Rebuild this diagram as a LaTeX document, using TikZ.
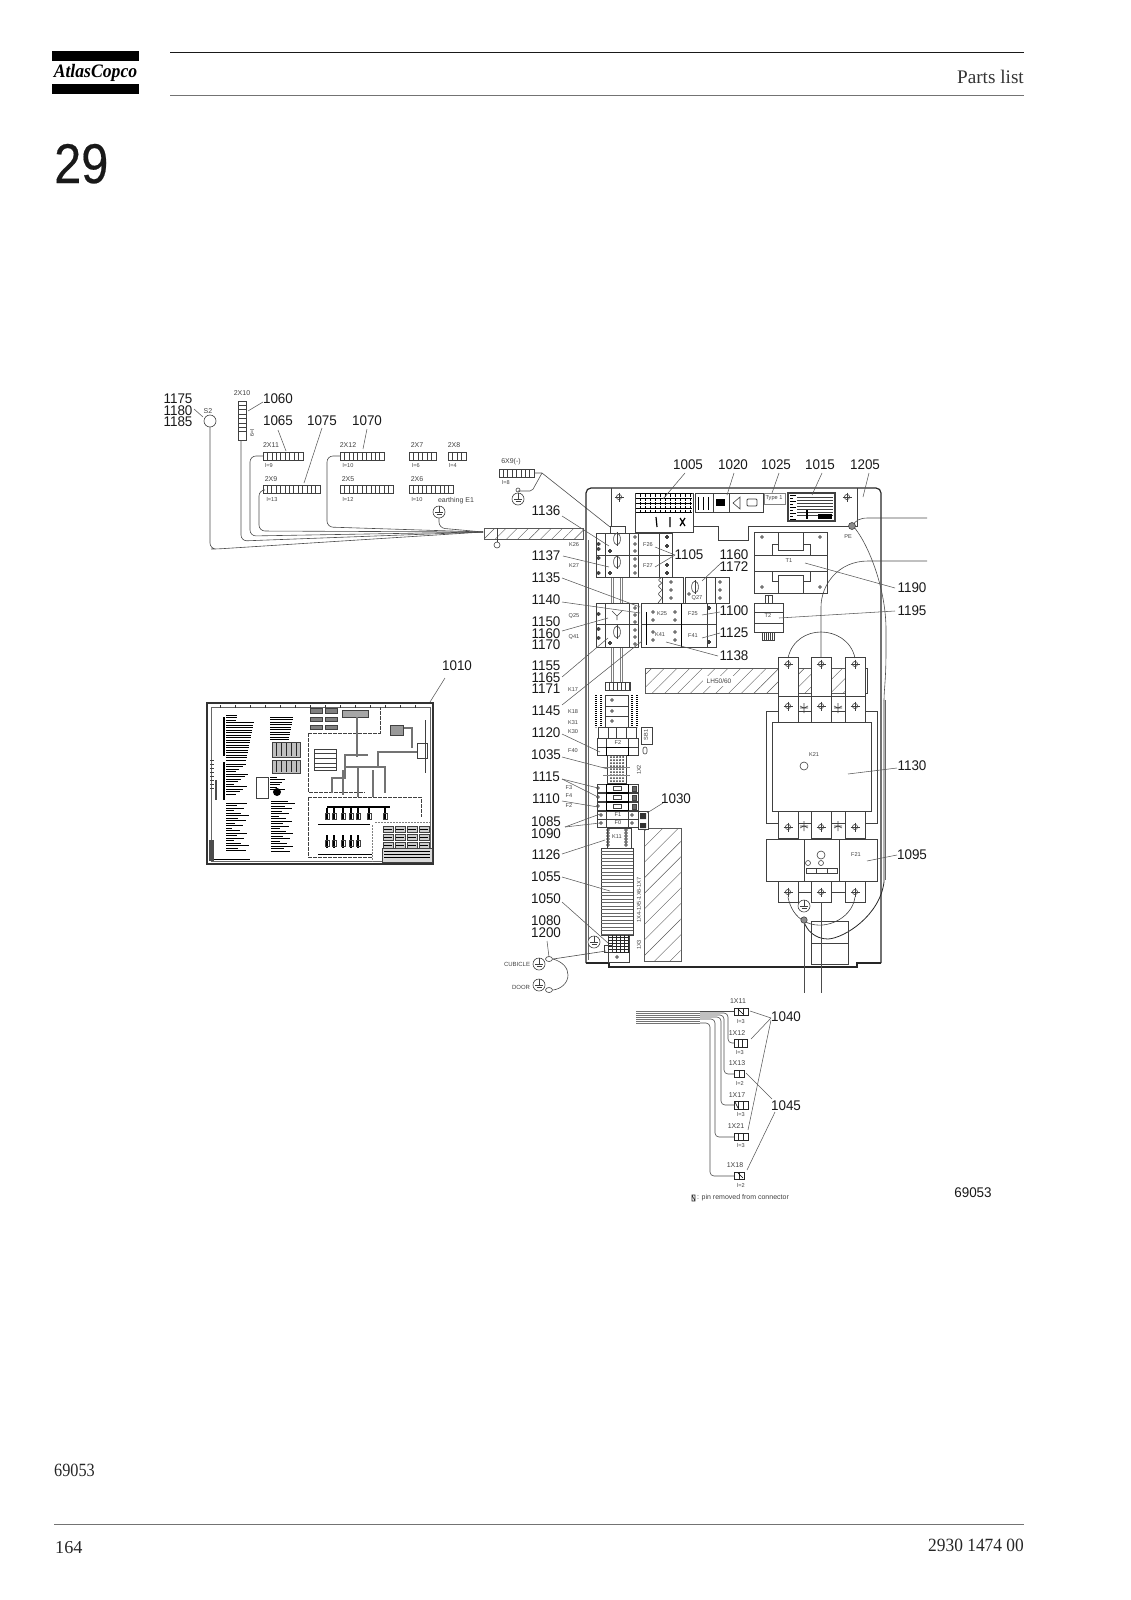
\documentclass[tikz,border=0pt]{standalone}
\usepackage{fontspec}
\setmainfont{Liberation Sans}
\newfontfamily\pagefont{Liberation Serif}
\usetikzlibrary{patterns.meta}

\tikzset{
	partno/.style={font=\fontsize{14}{14}\selectfont,inner sep=0pt,color=black!90,transform shape,xscale=.96},
	small/.style={font=\fontsize{5.6}{6}\selectfont,inner sep=0pt,color=black!75},
	plug/.style={font=\fontsize{7}{7}\selectfont,inner sep=0pt,color=black!75},
	leader/.style={draw=black!65,line width=.55pt},
	wire/.style={draw=black!70,line width=.6pt,rounded corners=4pt},
	part/.style={draw=black!75,line width=.6pt},
	hatched/.style={draw=black!65,line width=.6pt,pattern={Lines[angle=45,distance=5.5pt,line width=.4pt]},pattern color=black!65},
	txt/.style={draw=black,line width=1pt},
	fat/.style={draw=black!55,line width=1.6pt}
}
\newcommand{\connstrip}[4]{%
	\pgfmathsetmacro\cw{(#3-#1)/#4}
	\draw[part,fill=white] (#1,#2) rectangle (#3,#2+8);
	\foreach \k in {1,...,#4} \draw[part] (#1+\k*\cw,#2) -- ++(0,8);
}
\newcommand{\earthsym}[2]{%
	\draw[part,fill=white] (#1,#2) circle (6);
	\draw[part] (#1,#2-6) -- (#1,#2) (#1-4,#2) -- (#1+4,#2) (#1-2.5,#2+2) -- (#1+2.5,#2+2);
}
\newcommand{\screw}[2]{%
	\draw[part] (#1,#2) circle (2.6);
	\draw[part] (#1-4.5,#2) -- (#1+4.5,#2) (#1,#2-4.5) -- (#1,#2+4.5);
}
\newcommand{\pin}[2]{\draw[part] (#1,#2) circle (1.4);}
\newcommand{\turn}[2]{%
	\draw[part,fill=white] (#1,#2) ellipse (3.4 and 6);
	\draw[part,line width=1pt] (#1,#2-7) -- (#1,#2+7);
}

\begin{document}
\begin{tikzpicture}[x=1pt,y=-1pt]
	\useasboundingbox (0,0) rectangle (1130,1600);

	% page furniture
	\fill[black] (52,51) rectangle (139,61);
	\fill[black] (52,84) rectangle (139,94);
	\node[inner sep=0pt,transform shape,xscale=.93] (logo) at (95.5,72.5) {\pagefont\fontsize{19}{19}\selectfont\bfseries\itshape AtlasCopco};
	\draw[black!90,line width=.9pt] (170,52.5) -- (1024,52.5);
	\draw[black!55,line width=1.1pt] (170,95.5) -- (1024,95.5);
	\node[anchor=base east,inner sep=0pt,color=black!80] (title) at (1024,84) {\pagefont\fontsize{19.2}{19}\selectfont Parts list};
	\node[anchor=base west,inner sep=0pt,transform shape,xscale=.87,color=black!90] (chapter) at (54,183) {\fontsize{56}{56}\selectfont\addfontfeature{FakeBold=.4} 29};
	\node[anchor=base west,inner sep=0pt,transform shape,xscale=.87,color=black!85] (figno) at (54,1476) {\pagefont\fontsize{18.7}{19}\selectfont 69053};
	\draw[black!55,line width=1.1pt] (54,1524.5) -- (1024,1524.5);
	\node[anchor=base west,inner sep=0pt,color=black!85] (pageno) at (55,1553) {\pagefont\fontsize{18.2}{19}\selectfont 164};
	\node[anchor=base east,inner sep=0pt,transform shape,xscale=.93,color=black!85] (docno) at (1024,1551) {\pagefont\fontsize{18.7}{19}\selectfont 2930 1474 00};

	% connectors of the harness
	\draw[part,fill=white] (238,401) rectangle (246,440);
	\foreach \y in {405.3,409.7,...,436} \draw[part] (238,\y) -- (246,\y);
	\connstrip{263}{452}{303}{9}
	\connstrip{263}{485}{320}{13}
	\connstrip{340}{452}{384}{10}
	\connstrip{409}{452}{436}{6}
	\connstrip{448}{452}{466}{4}
	\connstrip{340}{485}{393}{12}
	\connstrip{409}{485}{453}{10}
	\connstrip{499}{469}{534}{8}
	\draw[part,fill=white] (210,421) circle (6);

	\coordinate (harness) at (483,532);
	\draw[wire,rounded corners=6pt] (210,427) -- (210,549) -- (217,549) -- (harness);
	\draw[wire,rounded corners=6pt] (241,440) -- (241,541) -- (harness);
	\draw[wire,rounded corners=6pt] (263,456) -- (250,456) -- (250,536) -- (harness);
	\draw[wire,rounded corners=6pt] (263,490) -- (259,490) -- (259,531) -- (harness);
	\draw[wire,rounded corners=6pt] (340,456) -- (327,456) -- (327,527) -- (harness);
	\earthsym{439}{512}
	\draw[wire,rounded corners=6pt] (439,518) -- (439,528) -- (harness);

	\draw[hatched,pattern={Lines[angle=45,distance=8pt,line width=.4pt]}] (484,528) rectangle (583,539);
	\draw[part] (497,528) -- (497,542);
	\draw[part] (497,545) circle (3);

	\draw[wire,rounded corners=0pt] (534,473) -- (542,473) -- (610,527);
	\draw[wire,rounded corners=2pt] (542,473) -- (532,491) -- (518,491);
	\draw[part] (518,490) circle (2);
	\earthsym{518}{499}

	% cabinet
	\draw[draw=black!85,line width=1.2pt,rounded corners=5pt] (586,963) -- (586,488) -- (881,488) -- (881,963);
	\draw[draw=black!85,line width=1.2pt] (586,963) -- (609,963) -- (609,967) -- (857,967) -- (857,963) -- (881,963);
	\draw[draw=black!60,line width=.5pt] (588.5,540) -- (588.5,960) (885,700) -- (885,880);
	\draw[part] (611,488) -- (611,527);
	\draw[part] (857,488) -- (857,526) -- (748,526) -- (748,540) -- (718,540) -- (718,526) -- (693,526);
	\screw{619}{497}
	\screw{847}{497}
	\draw[part] (610,526) rectangle (625,533);
	% rails
	\foreach \x in {611,613.5,620,622.5} {
		\draw[part,draw=black!50] (\x,577) -- (\x,603);
		\draw[part,draw=black!50] (\x,647) -- (\x,683);
	}

	% top row of devices
	\draw[part,fill=white] (635,493) rectangle (693,532);
	\foreach \y in {493.5,498,503,508,512.5} \draw[draw=black,line width=.9pt] (636,\y) -- (692,\y);
	\foreach \x in {640,645,650,655,660,665,670,675,680,685,690} \draw[draw=black,line width=.8pt,dash pattern=on 3pt off 1pt] (\x,494) -- (\x,513);
	\draw[draw=black,line width=1.2pt] (656,517) -- (657,527) (670,517) -- (670,527) (680,518) -- (685,526) (685,518) -- (680,526);
	\draw[part,line width=1pt,fill=white] (695,493) rectangle (763,512);
	\draw[part,line width=1pt] (713,493) -- (713,512) (729,493) -- (729,512);
	\foreach \x in {698,703,708} \draw[draw=black,line width=.8pt] (\x,497) -- (\x,510);
	\fill[black] (716,499) rectangle (725,506);
	\draw[part] (733,503) -- (740,497) -- (740,509) -- cycle;
	\draw[part,line width=.9pt,rounded corners=1pt] (747,499) rectangle (757,506);
	\draw[part,draw=black!50] (764,493) rectangle (785,504);
	\draw[part,line width=1.2pt,fill=white] (788,493) rectangle (835,521);
	\foreach \y in {497,500,...,515} \draw[part,line width=.5pt] (797,\y) -- (833,\y);
	\foreach \y in {495,498,...,519} \draw[txt] (790,\y) -- ++({3+mod(\y*7,6)},0);
	\fill[black] (818,514) rectangle (832,519);
	\fill[black] (806,510) rectangle (808,519);

	% PE and the long cables
	\draw[wire,rounded corners=0pt] (852,526) .. controls (856,520) and (860,518) .. (868,518) -- (927,518);
	\draw[wire,rounded corners=0pt] (821,657) -- (821,607) .. controls (821,585) and (838,561) .. (868,561) -- (927,561);
	\draw[wire,rounded corners=0pt] (853,526) .. controls (866,540) and (886,585) .. (886,630) -- (886,650) .. controls (886,680) and (884,690) .. (884,700);
	\draw[draw=black!85,line width=.8pt] (884,700) -- (884,882) .. controls (880,915) and (845,938) .. (828,939) .. controls (815,939) and (806,930) .. (804,921);
	\draw[part,fill=black!45] (852,526) circle (3.5);

	% transformers
	\draw[part] (754,532) rectangle (827,593);
	\draw[part] (754,555) -- (827,555) (754,571) -- (827,571);
	\draw[part] (772,555) -- (772,544) -- (778,544) (803,544) -- (810,544) -- (810,555);
	\draw[part] (772,571) -- (772,581) -- (778,581) (803,581) -- (810,581) -- (810,571);
	\draw[part,line width=.9pt,fill=white] (778,532) rectangle (803,550);
	\draw[part,line width=.9pt,fill=white] (778,575) rectangle (803,593);
	\foreach \x/\y in {762/537,820/537,762/587,820/587} \pin{\x}{\y}
	\draw[part] (754,603) rectangle (783,632);
	\draw[part] (754,612) -- (783,612) (754,623) -- (783,623);
	\draw[part] (765,595) rectangle (772,603) (768.5,595) -- (768.5,603);
	\draw[part] (762,632) rectangle (774,640);
	\foreach \x in {764,766,...,772} \draw[part] (\x,632) -- (\x,640);

	% contactor
	\draw[hatched,pattern={Lines[angle=45,distance=9pt,line width=.4pt]}] (645,668) rectangle (845,693);
	\draw[part] (845,668) rectangle (867,693);
	\draw[part,fill=white,draw=none] (703,676) rectangle (735,686);
	\draw[part] (766,711) rectangle (877,823);
	\foreach \x in {778,811,845} {
		\draw[part,fill=white] (\x,657) rectangle (\x+20,722);
		\draw[part,fill=white] (\x,811) rectangle (\x+20,838);
		\draw[part] (\x,696) -- (\x+20,696);
		\draw[part,fill=white] (\x,881) rectangle (\x+20,902);
	}
	\foreach \x in {788,821,855} {
		\screw{\x}{664}
		\screw{\x}{706}
		\screw{\x}{827}
		\screw{\x}{892}
	}
	\draw[part] (798,696) -- (811,696) (831,696) -- (845,696);
	\draw[part,fill=white] (772,722) rectangle (871,811);
	\foreach \x in {804,838} {
		\draw[part] (\x,703) -- (\x,713) (\x-4,708) -- (\x+4,708) (\x-4,706) -- (\x,708) -- (\x+4,706);
		\draw[part] (\x,821) -- (\x,831) (\x-4,826) -- (\x+4,826) (\x-4,828) -- (\x,826) -- (\x+4,828);
	}
	\draw[part] (804,766) circle (4);
	\draw[part] (788,658) .. controls (792,640) and (807,632) .. (821,632) .. controls (835,632) and (851,640) .. (855,658);
	% overload
	\draw[part,fill=white] (766,839) rectangle (877,881);
	\draw[part,line width=1pt] (804,839) -- (804,881) (839,839) -- (839,881);
	\draw[part] (821,855) circle (4);
	\draw[part] (808,863) circle (2.5) (821,863) circle (2.5);
	\draw[part,fill=white] (806,868) rectangle (837,873);
	\draw[part] (816,868) -- (816,873) (827,868) -- (827,873);
	\draw[part] (798,892) -- (811,892) (831,892) -- (845,892);
	\earthsym{804}{906}
	\draw[part] (788,897) .. controls (790,908) and (796,917) .. (804,921) .. controls (822,932) and (852,920) .. (855,897);
	\draw[part] (811,921) rectangle (848,964);
	\draw[part] (811,943) -- (848,943);
	\draw[part,fill=black!45] (804,920) circle (3.2);
	\draw[wire] (804,924) -- (804,993);
	\draw[wire] (821,902) -- (821,993);

	% upper breakers
	\draw[part] (596,533) rectangle (672,577);
	\draw[part] (596,555) -- (672,555);
	\draw[part] (605,533) -- (605,577) (629,533) -- (629,577) (638,533) -- (638,577) (659,533) -- (659,577);
	\turn{617}{539}
	\turn{617}{562}
	\foreach \y in {537,544,551,559,566,573} \pin{635}{\y}
	\foreach \y in {544,549,558,573} \pin{598.5}{\y}
	\foreach \y in {537,546,565,573} \pin{667}{\y}
	\pin{610}{551}
	\pin{610}{573}
	% middle row
	\draw[part] (662,577) rectangle (683,603);
	\draw[part,rounded corners=1pt] (662,577) -- (658,580) -- (662,583) -- (658,586) -- (662,590) -- (658,594) -- (662,598) -- (658,603);
	\foreach \y in {582,590,598} {\pin{671}{\y}\pin{720}{\y}}
	\draw[part] (685,577) rectangle (729,603);
	\draw[part] (706,577) -- (706,603) (715,577) -- (715,603);
	\turn{695}{587}
	\pin{689}{594}
	% lower breakers
	\draw[part] (596,603) rectangle (638,647);
	\draw[part] (596,624) -- (638,624);
	\draw[part] (605,603) -- (605,647) (629,603) -- (629,647);
	\turn{617}{632}
	\draw[part] (612,611) -- (617,616) -- (622,611) (617,616) -- (617,620);
	\foreach \y in {608,615,622,630,637,644} \pin{635}{\y}
	\foreach \y in {614,629,638} \pin{598.5}{\y}
	\pin{610}{643}
	\draw[part] (641,603) rectangle (716,647);
	\draw[part] (641,624) -- (716,624);
	\draw[part,line width=1pt,draw=black] (646,612) -- (646,645) (681,604) -- (681,647);
	\foreach \x in {653,675} \foreach \y in {612,620,632,640} \pin{\x}{\y}
	\pin{709}{608}\pin{709}{642}
	\draw[part] (707,603) -- (707,647);

	% lower column
	\draw[part] (605,682) rectangle (630,690);
	\foreach \x in {609,613,...,629} \draw[part] (\x,682) -- (\x,690);
	\draw[part] (605,695) rectangle (628,727);
	\draw[part] (605,706) -- (628,706) (605,716) -- (628,716);
	\foreach \y in {700,711,721} \pin{612}{\y}
	\foreach \x in {596,601,632,637} \draw[draw=black,line width=2pt,dash pattern=on 1.4pt off .6pt] (\x,695) -- (\x,727);
	\draw[part] (598,727) rectangle (636,738);
	\draw[part] (608,727) -- (608,738) (616,727) -- (616,738) (626,727) -- (626,738);
	\draw[part] (641,727) rectangle (652,744);
	\draw[part] (597,738) rectangle (638,747);
	\draw[part] (597,747) rectangle (638,755);
	\draw[draw=black,line width=1pt] (606,747) rectangle (628,755);
	\draw[part] (606,738) -- (606,747) (628,738) -- (628,747);
	\draw[part,rounded corners=2pt] (643,747) rectangle (647,754);
	% terminals
	\draw[part] (607,755) rectangle (626,783);
	\foreach \y in {757,760,...,782} \foreach \x in {611,614,617,620,623} \fill[black!80] (\x,\y) circle (1);
	\draw[part,draw=black!50] (603,767) -- (630,767) (603,775) -- (630,775);
	% miniature breakers
	\foreach \y in {784,793,802} {
		\draw[part] (597,\y) rectangle (638,\y+8.5);
		\draw[draw=black,line width=1pt,fill=white] (606,\y) rectangle (628,\y+8.5);
		\draw[part] (613,\y+2.5) rectangle (621,\y+6);
		\pin{598}{\y+4}
		\draw[part,fill=black!60] (632,\y+2) rectangle (636,\y+7);
	}
	\foreach \y in {811,819} {
		\draw[part] (597,\y) rectangle (638,\y+8.5);
		\draw[part] (606,\y) -- (606,\y+8.5) (628,\y) -- (628,\y+8.5);
		\pin{601}{\y+4}
		\pin{632}{\y+4}
	}
	\draw[part] (607,828) rectangle (631,848);
	\foreach \y in {830,833,...,847} {\pin{608}{\y}\pin{626}{\y}}
	% striped trunking
	\draw[part,fill=white,line width=.8pt] (601,848) rectangle (633,935);
	\foreach \y in {851,854.5,...,886} \draw[part,draw=black!60] (601,\y) -- (633,\y);
	\foreach \y in {892,895.5,...,934} \draw[part,draw=black!60] (601,\y) -- (633,\y);
	\draw[part,fill=white] (608,935) rectangle (629,962);
	\foreach \y in {937,940,...,952} \draw[draw=black!85,line width=.9pt] (608,\y) -- (629,\y);
	\foreach \x in {612,616,620,624,628} \draw[draw=black!85,line width=.9pt] (\x,935) -- (\x,953);
	\draw[part] (604,945) rectangle (612,952);
	\pin{617}{957}
	\earthsym{594}{942}
	\draw[hatched,pattern={Lines[angle=45,distance=11pt,line width=.4pt]}] (644,828) rectangle (681,961);
	\draw[part,fill=white] (638,811) rectangle (648,829);
	\fill[black!80] (640,813) rectangle (646,819) (640,823) rectangle (646,828);

	% earth studs at the foot
	\earthsym{539}{964}
	\earthsym{539}{985}
	\draw[part] (549,959) ellipse (3.5 and 2.5);
	\draw[part] (549,990) ellipse (3.5 and 2.5);
	\draw[wire,rounded corners=0pt] (553,959) -- (606,951);
	\draw[wire,rounded corners=0pt] (553,959) .. controls (563,962) and (568,968) .. (568,975) .. controls (568,983) and (561,989) .. (553,990);

	% drawing 1010
	\draw[draw=black!80,line width=1.4pt,fill=white] (207,703) rectangle (433,864);
	\draw[draw=black!60,line width=.6pt] (211,707) rectangle (430,861);
	\foreach \x in {220,235,...,425} \draw[draw=black!80,line width=.8pt] (\x,705) -- (\x,708);
	\foreach \y in {715,717.5,...,760} \draw[txt] (226,\y) -- ++({10+mod(\y*7,18)},0);
	\foreach \y in {764,766.5,...,796} \draw[txt] (226,\y) -- ++({8+mod(\y*5,16)},0);
	\foreach \y in {803,805.5,...,852} \draw[txt] (226,\y) -- ++({6+mod(\y*3,18)},0);
	\draw[draw=black,line width=1.2pt] (224,762) -- (224,800) (224,717) -- (224,756);
	\foreach \y in {717,719.5,...,740} \draw[txt] (270,\y) -- ++({8+mod(\y*7,18)},0);
	\foreach \y in {777,779.5,...,790} \draw[txt] (270,\y) -- ++({6+mod(\y*3,10)},0);
	\foreach \y in {801,803.5,...,853} \draw[txt] (271,\y) -- ++({8+mod(\y*9,16)},0);
	\draw[part,fill=black!25] (272,742) rectangle (300,757);
	\draw[part,fill=black!25] (272,760) rectangle (300,773);
	\foreach \x in {276,281,...,298} \draw[draw=black!85,line width=1pt] (\x,743) -- (\x,756) (\x,761) -- (\x,772);
	\draw[part] (256,777) rectangle (268,798);
	\fill[black] (277,792) circle (4);
	\fill[black!70] (215,780) rectangle (217,800);
	\draw[part,dash pattern=on 4pt off 1pt] (308,733) -- (380,733) -- (380,707);
	\draw[part,dash pattern=on 4pt off 1pt] (308,733) -- (308,792) -- (365,792);
	\draw[part,dash pattern=on 4pt off 1pt] (308,797) -- (308,857) -- (372,857);
	\draw[part,dash pattern=on 4pt off 1pt] (308,797) -- (421,797) -- (421,817);
	\foreach \x in {310,325} {
		\draw[part,fill=black!50] (\x,708) rectangle (\x+12,713);
		\draw[part,fill=black!50] (\x,717) rectangle (\x+12,721);
		\draw[part,fill=black!50] (\x,725) rectangle (\x+12,729);
	}
	\draw[part,fill=black!35] (342,710) rectangle (368,717);
	\draw[part] (314,749) rectangle (336,770);
	\foreach \y in {753,758,763,767} \draw[part] (314,\y) -- (336,\y);
	\draw[fat] (345,770) -- (345,755) -- (368,755);
	\draw[fat] (332,793) -- (332,778) -- (345,778) -- (345,767);
	\draw[fat] (345,767) -- (385,767) -- (385,793);
	\draw[fat] (378,767) -- (378,752) -- (417,752);
	\draw[fat] (402,728) -- (412,728) -- (412,748);
	\draw[fat] (357,717) -- (357,757);
	\draw[fat] (358,767) -- (358,797);
	\draw[fat] (373,770) -- (373,797);
	\draw[fat] (343,770) -- (343,795);
	\draw[part,fill=white] (417,743) rectangle (427,758);
	\draw[part] (425,720) -- (425,773);
	\draw[part,fill=black!40] (390,725) rectangle (403,735);
	\draw[draw=black,line width=1.4pt] (327,807) -- (390,807);
	\foreach \x in {327,334,343,351,358,369,385} {
		\draw[draw=black,line width=1.3pt] (\x,808) -- (\x,820);
		\draw[part] (\x-2,813) rectangle (\x+2,819);
	}
	\foreach \x in {327,334,343,351,358} {
		\draw[draw=black,line width=1.3pt] (\x,835) -- (\x,848);
		\draw[part] (\x-2,840) rectangle (\x+2,846);
	}
	\draw[txt] (318,824) -- (370,824) (318,854) -- (372,854);
	\draw[part,draw=black!50,dash pattern=on 2pt off 1pt] (372,825) -- (372,862) (375,822) -- (430,822);
	\foreach \x in {383,395,407,419} \foreach \y in {826,834,842} {
		\draw[part,fill=black!20] (\x,\y) rectangle (\x+10,\y+6);
		\draw[txt,line width=.8pt] (\x+1,\y+3) -- (\x+9,\y+3);
	}
	\draw[part,fill=black!15] (382,848) rectangle (432,862);
	\foreach \y in {851,854,857} \draw[txt] (384,\y) -- (430,\y);
	\draw[txt,line width=.8pt] (214,859) -- (250,859);
	\fill[black!70] (209,840) rectangle (214,861);
	\foreach \y in {760,764,...,788} \draw[part,line width=.4pt] (210,\y) -- (214,\y);

	% door connectors
	\foreach \y in {1011,1013,...,1023} \draw[wire,draw=black!55] (636,\y) -- (700,\y);
	\draw[wire] (700,1011) -- (734,1011);
	\draw[wire] (700,1013) -- (728,1013) -- (728,1043) -- (734,1043);
	\draw[wire] (700,1015) -- (724,1015) -- (724,1074) -- (734,1074);
	\draw[wire] (700,1017) -- (721,1017) -- (721,1105) -- (734,1105);
	\draw[wire] (700,1019) -- (715,1019) -- (715,1137) -- (734,1137);
	\draw[wire] (700,1023) -- (710,1023) -- (710,1176) -- (734,1176);
	\foreach \xa/\ya/\xb/\yb/\c in {734/1008/748/1015/3,734/1039/747/1047/3,734/1070/744/1077/2,734/1101/748/1109/3,734/1133/748/1140/3,734/1172/744/1179/2} {
		\draw[part,draw=black!85,fill=white] (\xa,\ya) rectangle (\xb,\yb);
		\pgfmathsetmacro\cw{(\xb-\xa)/\c}
		\draw[part,draw=black!85] (\xa+\cw,\ya) -- (\xa+\cw,\yb);
		\ifnum\c=3 \draw[part,draw=black!85] (\xa+2*\cw,\ya) -- (\xa+2*\cw,\yb);\fi
	}
	\draw[part,draw=black] (738,1009) -- (743,1014) (738,1173) -- (743,1178) (735,1102) -- (738,1108);
	\draw[part,draw=black!85] (692,1195) rectangle (695,1201) (692,1195) -- (695,1201);

	% leaders
	\foreach \xa/\ya/\xb/\yb in {194/409/203/417,248/411/263/402,278/430/286/451,322/428/304/483,367/429/363/449,
		562/516/609/546,563/556/609/567,562/578/640/607,562/602/640/613,562/631/608/618,562/677/608/638,562/705/642/641,
		685/473/663/499,734/473/727/495,779/473/772/493,822/473/812/495,869/473/863/497,
		675/555/655/547,675/555/655/567,721/563/702/581,895/588/805/563,895/611/779/618,720/612/702/615,720/633/702/638,718/656/666/642,
		562/734/600/752,562/757/608/769,562/779/598/788,562/779/598/797,562/801/598/807,565/827/600/814,565/827/600/823,
		562/854/605/840,562/877/610/891,562/902/608/943,663/803/647/813,897/768/848/774,897/855/867/861,
		547/941/549/957,445/678/430/702,
		771/1018/750/1011,771/1018/751/1039,771/1020/748/1130,772/1099/746/1073,775/1112/747/1170}
		\draw[leader] (\xa,\ya) -- (\xb,\yb);

	% part numbers
	\foreach \n/\x/\y in {1175/178/399,1180/178/410.5,1185/178/422,1060/278/399,1065/278/421,1075/322/421,1070/367/421,
		1136/546/511,1137/546/556,1135/546/578,1140/546/600,1150/546/622,1160/546/633.5,1170/546/645,
		1155/546/666,1165/546/677.5,1171/546/689,1145/546/711,1120/546/733,1035/546/755,1115/546/777,
		1110/546/799,1085/546/822,1090/546/833.5,1126/546/855,1055/546/877,1050/546/899,1080/546/921,1200/546/933,
		1005/688/465,1020/733/465,1025/776/465,1015/820/465,1205/865/465,1105/689/555,1160/734/555,1172/734/567,
		1100/734/611,1125/734/633,1138/734/656,1030/676/799,1190/912/588,1195/912/611,1130/912/766,1095/912/855,
		1040/786/1017,1045/786/1106,69053/973/1193,1010/457/666}
		\node[partno] (p\n-\x) at (\x,\y) {\n};

	% small texts
	\foreach \t/\x/\y in {l=9/269/465,l=13/272/499,l=10/348/465,l=6/416/465,l=4/453/465,l=12/348/499,l=10/417/499,l=8/506/482,
		K26/574/545,K27/574/566,Q25/574/616,Q41/574/637,
		K17/573/690,K18/573/712,K31/573/723,K30/573/732,F40/573/751,F3/569/788,F4/569/796,F2/569/806,
		F26/648/545,F27/648/566,Q27/697/598,K25/662/614,K41/660/635,F25/693/614,F41/693/636,T1/789/561,T2/768/616,PE/848/537,
		K21/814/755,F21/856/855,F2/618/743,F1/618/815,F0/618/823,K11/617/837,Type 1/774/498,
		l=3/741/1021,l=3/740/1052,l=2/740/1083,l=3/741/1114,l=3/741/1145,l=2/741/1185}
		\node[small] (t\x-\y) at (\x,\y) {\t};
	\foreach \t/\x/\y in {S2/208/411,2X10/242/393,2X11/271/445,2X9/271/479,2X12/348/445,2X7/417/445,2X8/454/445,2X5/348/479,2X6/417/479,
		earthing E1/456/501,6X9(-)/511/462,
		1X11/738/1001,1X12/737/1033,1X13/737/1063,1X17/737/1095,1X21/736/1126,1X18/735/1165,{: pin removed from connector}/743/1198}
		\node[plug] (u\x-\y) at (\x,\y) {\t};
	\node[small,font=\fontsize{6}{6}\selectfont] (cubicle) at (517,964) {CUBICLE};
	\node[small,font=\fontsize{6}{6}\selectfont] (door) at (521,987) {DOOR};
	\node[small,rotate=-90] (l9) at (252,433) {l=9};
	\node[small,font=\fontsize{6.5}{7}\selectfont] (lhtext) at (719,681) {LH50/60};
	\node[small,rotate=90] (x2) at (639,770) {1X2};
	\node[small,rotate=90] (x3) at (639,945) {1X3};
	\node[small,rotate=90] (x4) at (639,900) {1X4-1X5-1X6-1X7};
	\node[small,rotate=90] (sb) at (646,735) {SB1};
\end{tikzpicture}
\end{document}
